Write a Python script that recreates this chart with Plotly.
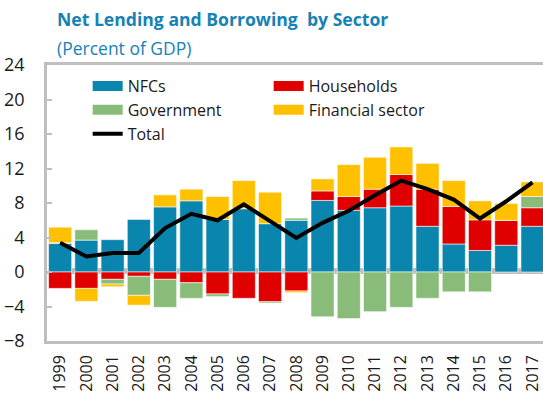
import plotly.graph_objects as go

# values, percent of GDP
years = [str(y) for y in range(1999, 2018)]
nfcs = [3.3, 3.7, 3.75, 6.1, 7.55, 8.25, 6.1, 7.35, 5.6, 6.0, 8.3, 7.15, 7.45, 7.65, 5.3, 3.25, 2.5, 3.1, 5.3]
households = [-1.9, -1.9, -0.85, -0.5, -0.85, -1.25, -2.55, -3.05, -3.45, -2.2, 1.1, 1.6, 2.15, 3.65, 4.3, 4.35, 3.55, 2.9, 2.15]
government = [0.1, 1.2, -0.55, -2.2, -3.25, -1.8, -0.3, 0.0, -0.15, 0.25, -5.2, -5.4, -4.6, -4.1, -3.05, -2.3, -2.3, 0.0, 1.3]
financial = [1.8, -1.5, -0.3, -1.15, 1.4, 1.35, 2.65, 3.25, 3.65, -0.2, 1.4, 3.7, 3.7, 3.2, 3.0, 3.0, 2.2, 1.95, 1.7]
total = [3.4, 1.8, 2.2, 2.2, 5.1, 6.75, 6.0, 7.85, 5.9, 3.95, 5.7, 7.1, 8.9, 10.6, 9.6, 8.4, 6.2, 8.2, 10.4]

y_ticks = [-8, -4, 0, 4, 8, 12, 16, 20, 24]

FONT = "Open Sans"
GREY = "#BFBFBF"
TEAL = "#1682B5"

series = [
    ("NFCs", nfcs, "#0A86AE"),
    ("Households", households, "#E00000"),
    ("Government", government, "#88BC78"),
    ("Financial sector", financial, "#FFC000"),
]

fig = go.Figure()

for name, vals, color in series:
    fig.add_trace(go.Bar(
        x=years, y=vals, name=name, marker_color=color,
        marker_line=dict(width=0.8, color="rgba(255,255,255,0.7)"),
        showlegend=False, legendgroup=name,
    ))
    # wide swatch for the legend
    fig.add_trace(go.Scatter(
        x=[None], y=[None], mode="lines", name=name, legendgroup=name,
        line=dict(color=color, width=12),
    ))

fig.add_trace(go.Scatter(
    x=years, y=total, mode="lines", name="Total",
    line=dict(color="black", width=4),
))

# ticks along the zero line, between the years
fig.add_trace(go.Scatter(x=[None], y=[None], xaxis="x2", showlegend=False, hoverinfo="skip"))

fig.update_layout(
    width=543, height=396,
    margin=dict(l=47, r=0, t=65, b=55),
    paper_bgcolor="white", plot_bgcolor="white",
    barmode="relative", bargap=0.12,
    font=dict(family=FONT, size=16, color="#1a1a1a"),
    xaxis=dict(
        type="category", range=[-0.5, 18.4], automargin=False,
        showline=True, linecolor=GREY, linewidth=2.5, mirror=True,
        ticks="", tickangle=-90, ticklabelstandoff=5,
        showgrid=False, zeroline=False,
        tickfont=dict(size=16),
    ),
    xaxis2=dict(
        overlaying="x", anchor="free", position=0.25, side="top",
        range=[-0.5, 18.4], tickvals=[i + 0.5 for i in range(18)], automargin=False,
        ticks="outside", ticklen=4, tickwidth=2.5, tickcolor=GREY,
        showticklabels=False, showline=False, showgrid=False, zeroline=False,
    ),
    yaxis=dict(
        range=[-8, 24], tickvals=y_ticks, automargin=False,
        showline=True, linecolor=GREY, linewidth=2.5,
        ticks="inside", ticklen=5, tickwidth=2, tickcolor=GREY,
        ticklabelstandoff=16,
        showgrid=False, zeroline=True, zerolinecolor=GREY, zerolinewidth=3,
        tickfont=dict(size=18),
    ),
    legend=dict(
        orientation="h", x=0.082, y=0.985, xanchor="left", yanchor="top",
        bgcolor="rgba(0,0,0,0)", entrywidth=136, entrywidthmode="pixels",
        font=dict(size=16), tracegroupgap=0,
    ),
    annotations=[
        dict(text="<b>Net Lending and Borrowing  by Sector</b>", xref="paper", yref="paper",
             x=0.016, y=1.0, yshift=65 - 5, xanchor="left", yanchor="top",
             showarrow=False, font=dict(size=17.6, color=TEAL)),
        dict(text="(Percent of GDP)", xref="paper", yref="paper",
             x=0.016, y=1.0, yshift=65 - 34, xanchor="left", yanchor="top",
             showarrow=False, font=dict(size=17.5, color=TEAL)),
    ],
)

# drop the browser's default page margin so the figure sits at the window corner
fig.write_html("out.html", config={"displayModeBar": False},
               post_script="document.body.style.margin='0';")
